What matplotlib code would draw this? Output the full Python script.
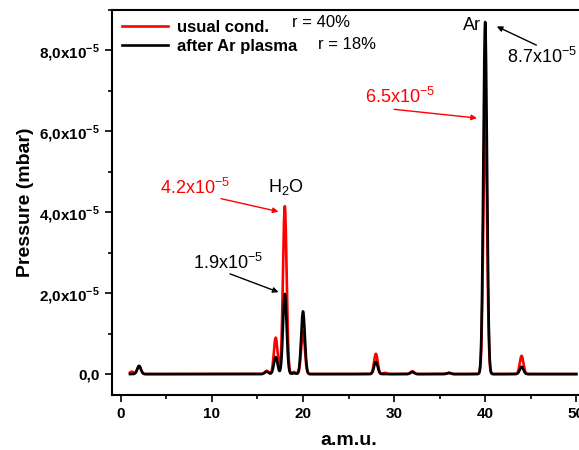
import numpy as np
import matplotlib
matplotlib.use('Agg')
import matplotlib.pyplot as plt
from matplotlib.ticker import MultipleLocator, FuncFormatter

plt.rcParams['font.family'] = ['Liberation Sans', 'DejaVu Sans']
plt.rcParams['mathtext.fontset'] = 'custom'
plt.rcParams['mathtext.rm'] = 'Liberation Sans'
plt.rcParams['mathtext.bf'] = 'Liberation Sans:bold'

# peak positions (amu) and heights (x1e-5 mbar)
usual_mass = [1.2, 2.0, 16.0, 17.0, 18.0, 19.0, 20.0, 28.0, 29.0, 32.0, 36.0, 40.0, 44.0]
usual_height = [0.06, 0.2, 0.08, 0.9, 4.15, 0.05, 1.05, 0.5, 0.03, 0.07, 0.03, 6.5, 0.45]
argon_mass = [2.0, 16.0, 17.0, 18.0, 19.0, 20.0, 28.0, 32.0, 36.0, 40.0, 44.0]
argon_height = [0.2, 0.06, 0.42, 1.98, 0.02, 1.55, 0.3, 0.05, 0.03, 8.7, 0.18]
peak_sigma = 0.2

x = np.linspace(1.0, 50.0, 3000)


def spectrum(masses, heights):
    y = np.zeros_like(x)
    for m, h in zip(masses, heights):
        y += h * 1e-5 * np.exp(-0.5 * ((x - m) / peak_sigma) ** 2)
    return y


fig = plt.figure(figsize=(5.79, 4.5), dpi=100)
ax = fig.add_axes([0.193, 0.122, 0.818, 0.856])

ax.plot(x, spectrum(usual_mass, usual_height), color='#ff0000', lw=1.9, label='usual cond.')
ax.plot(x, spectrum(argon_mass, argon_height), color='black', lw=1.9, label='after Ar plasma')

ax.set_xlim(-1, 51)
ax.set_ylim(-0.52e-5, 9.0e-5)
ax.xaxis.set_major_locator(MultipleLocator(10))
ax.xaxis.set_minor_locator(MultipleLocator(5))
ax.yaxis.set_major_locator(MultipleLocator(2e-5))
ax.yaxis.set_minor_locator(MultipleLocator(1e-5))


def ylab(v, pos):
    if abs(v) < 1e-9:
        return '0,0'
    return ('%.1f' % (v / 1e-5)).replace('.', ',') + r'x10$^{\mathbf{-5}}$'


ax.yaxis.set_major_formatter(FuncFormatter(ylab))
ax.tick_params(which='both', direction='out', width=1.2)
ax.tick_params(which='major', length=5, labelsize=11)
ax.tick_params(which='minor', length=3)
for lbl in ax.get_xticklabels() + ax.get_yticklabels():
    lbl.set_fontweight('bold')
for s in ax.spines.values():
    s.set_linewidth(1.5)

ax.set_xlabel('a.m.u.', fontsize=14, fontweight='bold', labelpad=8)
ax.set_ylabel('Pressure (mbar)', fontsize=14, fontweight='bold', labelpad=4)

leg = ax.legend(loc='upper left', frameon=False, prop={'weight': 'bold', 'size': 12},
                handlelength=2.8, handletextpad=0.5, borderaxespad=0.2,
                labelspacing=0.25, bbox_to_anchor=(0.0, 1.0))
fig.text(0.505, 0.951, 'r = 40%', fontsize=12, va='center')
fig.text(0.549, 0.902, 'r = 18%', fontsize=12, va='center')

ax.text(18.1, 4.62e-5, 'H$_2$O', fontsize=13, ha='center', va='center')
ax.text(38.6, 8.62e-5, 'Ar', fontsize=13, ha='center', va='center')

arrow = dict(arrowstyle='-|>', lw=1, mutation_scale=8)
ax.annotate('', xy=(17.6, 4.0e-5), xytext=(10.7, 4.35e-5),
            arrowprops=dict(arrow, color='#ff0000'))
ax.text(4.3, 4.6e-5, r'4.2x10$^{-5}$', color='#ff0000', fontsize=13, va='center')
ax.annotate('', xy=(17.6, 2.0e-5), xytext=(11.7, 2.5e-5),
            arrowprops=dict(arrow, color='black'))
ax.text(7.9, 2.75e-5, r'1.9x10$^{-5}$', color='black', fontsize=13, va='center')
ax.annotate('', xy=(39.4, 6.32e-5), xytext=(29.7, 6.55e-5),
            arrowprops=dict(arrow, color='#ff0000'))
ax.text(26.8, 6.85e-5, r'6.5x10$^{-5}$', color='#ff0000', fontsize=13, va='center')
ax.annotate('', xy=(41.0, 8.62e-5), xytext=(45.9, 8.1e-5),
            arrowprops=dict(arrow, color='black'))
ax.text(42.4, 7.83e-5, r'8.7x10$^{-5}$', color='black', fontsize=13, va='center')

fig.savefig('out.png', dpi=100)
